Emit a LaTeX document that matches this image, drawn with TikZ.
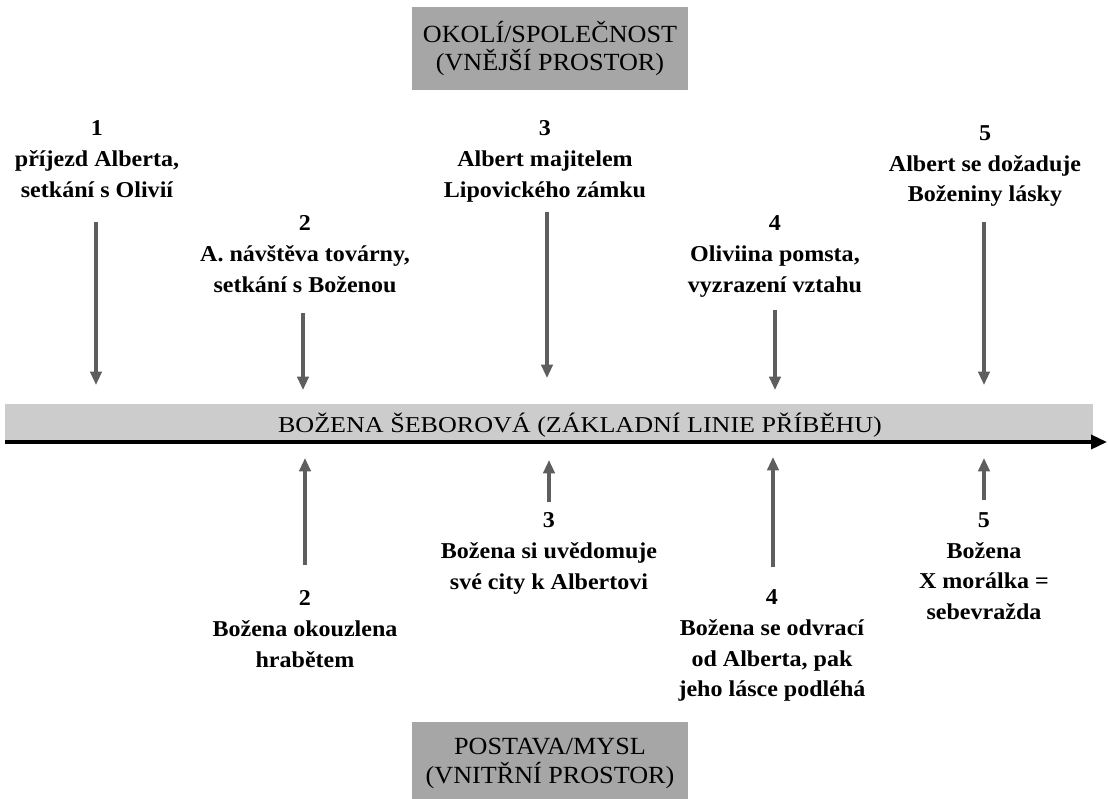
\documentclass[tikz,border=0pt]{standalone}
\usepackage{fontspec}
\setmainfont{Liberation Serif}
\newfontfamily\lblfont[FakeStretch=1.06]{Liberation Serif}
\newfontfamily\bandfont[FakeStretch=1.15]{Liberation Serif}
\usetikzlibrary{arrows.meta}
\definecolor{boxgrey}{HTML}{A6A6A6}
\definecolor{bandgrey}{HTML}{CCCCCC}
\definecolor{arrowgrey}{HTML}{5E5E5E}
\tikzset{
  spacebox/.style={fill=boxgrey, minimum width=207pt, minimum height=62.25pt,
    inner sep=0pt, align=center, font=\lblfont\fontsize{18.5}{21.5}\selectfont},
  event/.style={anchor=north, inner sep=0pt, align=center,
    font=\lblfont\bfseries\fontsize{17}{23}\selectfont},
  evarrow/.style={draw=arrowgrey, line width=2.3pt, -{Triangle[length=10pt,width=8.5pt]}},
  timeline/.style={draw=black, line width=2.6pt, -{Triangle[length=12pt,width=10.5pt]}},
  bandbar/.style={fill=bandgrey, inner sep=0pt, minimum width=816pt, minimum height=27pt},
  bandtext/.style={anchor=base, inner sep=0pt, font=\bandfont\fontsize{17}{20}\selectfont},
}
\begin{document}
\begin{tikzpicture}[x=0.75pt, y=-0.75pt]
\useasboundingbox (0,0) rectangle (1108,799);

% outer / inner space boxes
\node[spacebox] (outer) at (550,48.5) {OKOLÍ/SPOLEČNOST\\(VNĚJŠÍ PROSTOR)};
\node[spacebox] (inner) at (550,763.5) {POSTAVA/MYSL\\(VNITŘNÍ PROSTOR)};

% main story line
\node[bandbar] (band) at (549,422) {};
\node[bandtext] (bandlabel) at (580,432) {BOŽENA ŠEBOROVÁ (ZÁKLADNÍ LINIE PŘÍBĚHU)};
\coordinate (tlstart) at (5,442);
\coordinate (tlend) at (1107,442);
\draw[timeline] (tlstart) -- (tlend);

% events of the outer space
\node[event] (t1) at (97,120.5) {1\\příjezd Alberta,\\setkání s Olivií};
\node[event] (t2) at (305,215.5) {2\\A. návštěva továrny,\\setkání s Boženou};
\node[event] (t3) at (545,120.5) {3\\Albert majitelem\\Lipovického zámku};
\node[event] (t4) at (775,215.5) {4\\Oliviina pomsta,\\vyzrazení vztahu};
\node[event] (t5) at (985,125.5) {5\\Albert se dožaduje\\Boženiny lásky};

% events of the inner space
\node[event] (b2) at (305,590.5) {2\\Božena okouzlena\\hrabětem};
\node[event] (b3) at (549,512.5) {3\\Božena si uvědomuje\\své city k Albertovi};
\node[event] (b4) at (772,589.5) {4\\Božena se odvrací\\od Alberta, pak\\jeho lásce podléhá};
\node[event] (b5) at (984,512.5) {5\\Božena\\X morálka =\\sebevražda};

% arrow end points
\coordinate (t1a) at (96,222);  \coordinate (t1b) at (96,385);
\coordinate (t2a) at (303,313); \coordinate (t2b) at (303,390);
\coordinate (t3a) at (547,212); \coordinate (t3b) at (547,378);
\coordinate (t4a) at (775,310); \coordinate (t4b) at (775,390);
\coordinate (t5a) at (984,222); \coordinate (t5b) at (984,385);
\coordinate (b2a) at (305,565); \coordinate (b2b) at (305,458);
\coordinate (b3a) at (549,502); \coordinate (b3b) at (549,460);
\coordinate (b4a) at (773,567); \coordinate (b4b) at (773,457);
\coordinate (b5a) at (984,500); \coordinate (b5b) at (984,458);

\foreach \e in {t1,t2,t3,t4,t5,b2,b3,b4,b5}
  \draw[evarrow] (\e a) -- (\e b);
\end{tikzpicture}
\end{document}
